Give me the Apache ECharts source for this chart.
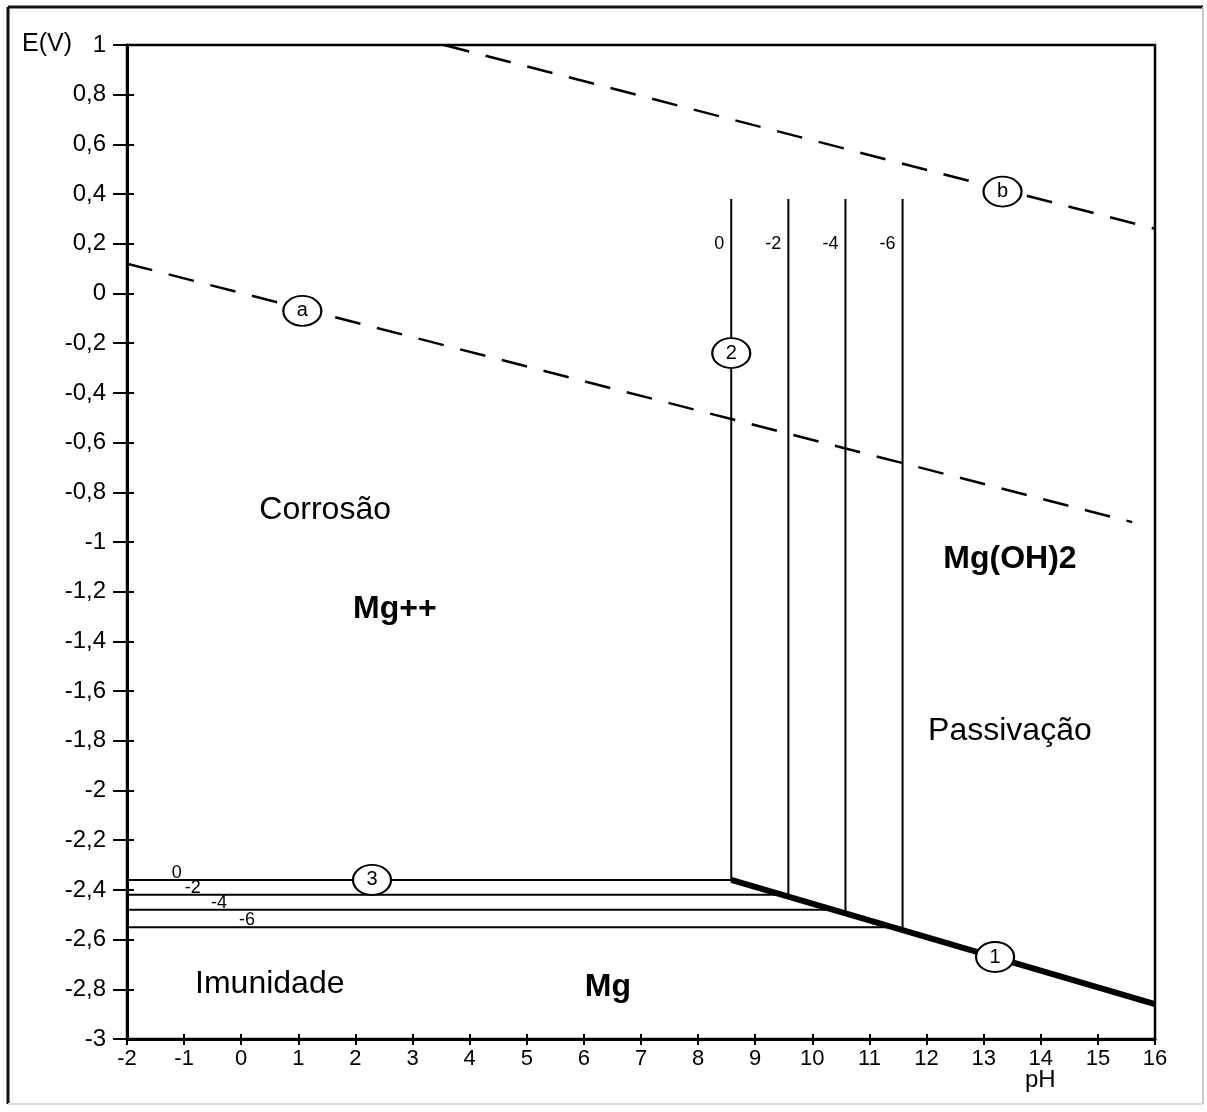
<!DOCTYPE html>
<html>
<head>
<meta charset="utf-8">
<title>Diagrama de Pourbaix - Mg</title>
<script src="https://cdn.jsdelivr.net/npm/echarts@6/dist/echarts.min.js"></script>
<style>
	html, body { margin: 0; padding: 0; background: #fff; }
	#chart { width: 1207px; height: 1112px; }
</style>
</head>
<body>
<div id="chart"></div>
<script>
// linhas tracejadas da agua (a: H2, b: O2)
var lineA = [[-2, 0.12], [15.6, -0.92]];
var lineB = [[3.55, 1.0], [16, 0.26]];
// linha 1: Mg / Mg(OH)2
var line1 = [[8.58, -2.36], [16, -2.86]];

// linhas 3: Mg / Mg++ (horizontais), para log(a) = 0, -2, -4, -6
var concLabels = ['0', '-2', '-4', '-6'];
var hLevels = [-2.36, -2.42, -2.48, -2.55];
var hEnds = [8.58, 9.45, 10.35, 11.4];
var hLabelPh = [-1.13, -0.85, -0.39, 0.1];

// linhas 2: Mg++ / Mg(OH)2 (verticais)
var vPh = [8.58, 9.58, 10.58, 11.58];
var vTop = 0.38;
var vBottoms = [-2.36, -2.43, -2.5, -2.56];
var vLabelE = 0.2;

// circulos numerados
var markers = [
	{ name: 'a', value: [1.07, -0.07] },
	{ name: 'b', value: [13.33, 0.41] },
	{ name: '1', value: [13.2, -2.67] },
	{ name: '2', value: [8.58, -0.24] },
	{ name: '3', value: [2.29, -2.36] }
];

// textos das regioes
var regions = [
	{ name: 'Corrosão', value: [1.47, -0.87], bold: false },
	{ name: 'Mg++', value: [2.69, -1.27], bold: true },
	{ name: 'Mg(OH)2', value: [13.46, -1.07], bold: true },
	{ name: 'Passivação', value: [13.46, -1.76], bold: false },
	{ name: 'Imunidade', value: [0.5, -2.78], bold: false },
	{ name: 'Mg', value: [6.42, -2.79], bold: true }
];

var FONT = 'Liberation Sans';

function fmt(v) {
	return String(+v.toFixed(1)).replace('.', ',');
}

function segment(data, width, dashed) {
	return {
		type: 'line',
		data: data,
		symbol: 'none',
		silent: true,
		animation: false,
		lineStyle: {
			color: '#000',
			width: width,
			type: dashed ? [26, 17] : 'solid'
		},
		z: 3
	};
}

var series = [];
series.push(segment(lineA, 2.5, true));
series.push(segment(lineB, 2.5, true));

for (var i = 0; i < hLevels.length; ++i) {
	series.push(segment([[-2, hLevels[i]], [hEnds[i], hLevels[i]]], 2, false));
	series.push(segment([[vPh[i], vTop], [vPh[i], vBottoms[i]]], 2, false));
}
series.push(segment(line1, 6, false));

// rotulos das concentracoes
var vLabels = [];
var hLabels = [];
for (var i = 0; i < concLabels.length; ++i) {
	vLabels.push({ value: [vPh[i], vLabelE], label: { formatter: concLabels[i] } });
	hLabels.push({ value: [hLabelPh[i], hLevels[i]], label: { formatter: concLabels[i] } });
}
var smallLabel = { show: true, color: '#000', fontFamily: FONT, fontSize: 18 };
series.push({
	type: 'scatter',
	data: vLabels,
	symbolSize: 0,
	silent: true,
	animation: false,
	itemStyle: { opacity: 1 },
	label: echarts.util.extend({ position: 'left', distance: 7 }, smallLabel),
	z: 4
});
series.push({
	type: 'scatter',
	data: hLabels,
	symbolSize: 0,
	silent: true,
	animation: false,
	itemStyle: { opacity: 1 },
	label: echarts.util.extend({ position: 'top', distance: -2 }, smallLabel),
	z: 4
});

series.push({
	type: 'scatter',
	data: markers,
	symbol: 'circle',
	symbolSize: [38, 30],
	silent: true,
	animation: false,
	itemStyle: { color: '#fff', borderColor: '#000', borderWidth: 2, opacity: 1 },
	label: {
		show: true,
		position: 'inside',
		formatter: '{b}',
		color: '#000',
		fontFamily: FONT,
		fontSize: 20
	},
	z: 6
});

var regionData = [];
for (var i = 0; i < regions.length; ++i) {
	regionData.push({
		name: regions[i].name,
		value: regions[i].value,
		label: { fontWeight: regions[i].bold ? 'bold' : 'normal' }
	});
}
series.push({
	type: 'scatter',
	data: regionData,
	symbolSize: 0,
	silent: true,
	animation: false,
	itemStyle: { opacity: 1 },
	label: {
		show: true,
		position: 'inside',
		formatter: '{b}',
		color: '#000',
		fontFamily: FONT,
		fontSize: 32
	},
	z: 5
});

var axisLine = { onZero: false, lineStyle: { color: '#000', width: 3 } };

var chart = echarts.init(document.getElementById('chart'));
var option = {
	backgroundColor: '#fff',
	animation: false,
	grid: {
		left: 127,
		right: 52,
		top: 45,
		bottom: 73,
		show: true,
		borderColor: '#000',
		borderWidth: 2.5,
		backgroundColor: 'transparent'
	},
	xAxis: [{
		type: 'value',
		min: -2,
		max: 16,
		interval: 1,
		axisLine: axisLine,
		axisTick: { show: true, length: 6, lineStyle: { color: '#000', width: 2 } },
		axisLabel: { color: '#000', fontFamily: FONT, fontSize: 22, margin: 9 },
		splitLine: { show: false }
	}, {
		// ticks para dentro
		type: 'value',
		position: 'bottom',
		min: -2,
		max: 16,
		interval: 1,
		axisLine: { show: false, onZero: false },
		axisTick: { show: true, inside: true, length: 5, lineStyle: { color: '#000', width: 2 } },
		axisLabel: { show: false },
		splitLine: { show: false }
	}],
	yAxis: [{
		type: 'value',
		min: -3,
		max: 1,
		interval: 0.2,
		axisLine: axisLine,
		axisTick: { show: true, length: 14, lineStyle: { color: '#000', width: 2 } },
		axisLabel: { color: '#000', fontFamily: FONT, fontSize: 24, margin: 21, formatter: fmt },
		splitLine: { show: false }
	}, {
		type: 'value',
		position: 'left',
		min: -3,
		max: 1,
		interval: 0.2,
		axisLine: { show: false, onZero: false },
		axisTick: { show: true, inside: true, length: 7, lineStyle: { color: '#000', width: 2 } },
		axisLabel: { show: false },
		splitLine: { show: false }
	}],
	graphic: [
		{ type: 'line', shape: { x1: 8, y1: 7, x2: 1203, y2: 7 }, style: { stroke: '#111', lineWidth: 3 } },
		{ type: 'line', shape: { x1: 8, y1: 7, x2: 8, y2: 1104 }, style: { stroke: '#111', lineWidth: 3 } },
		{ type: 'line', shape: { x1: 1203, y1: 7, x2: 1203, y2: 1104 }, style: { stroke: '#ccc', lineWidth: 2 } },
		{ type: 'line', shape: { x1: 8, y1: 1104, x2: 1203, y2: 1104 }, style: { stroke: '#ddd', lineWidth: 2 } },
		{ type: 'text', left: 22, top: 32, style: { text: 'E(V)', fill: '#000', font: '25px "Liberation Sans"' } },
		{ type: 'text', left: 1025, top: 1068, style: { text: 'pH', fill: '#000', font: '24px "Liberation Sans"' } }
	],
	series: series
};
chart.setOption(option);
</script>
</body>
</html>
